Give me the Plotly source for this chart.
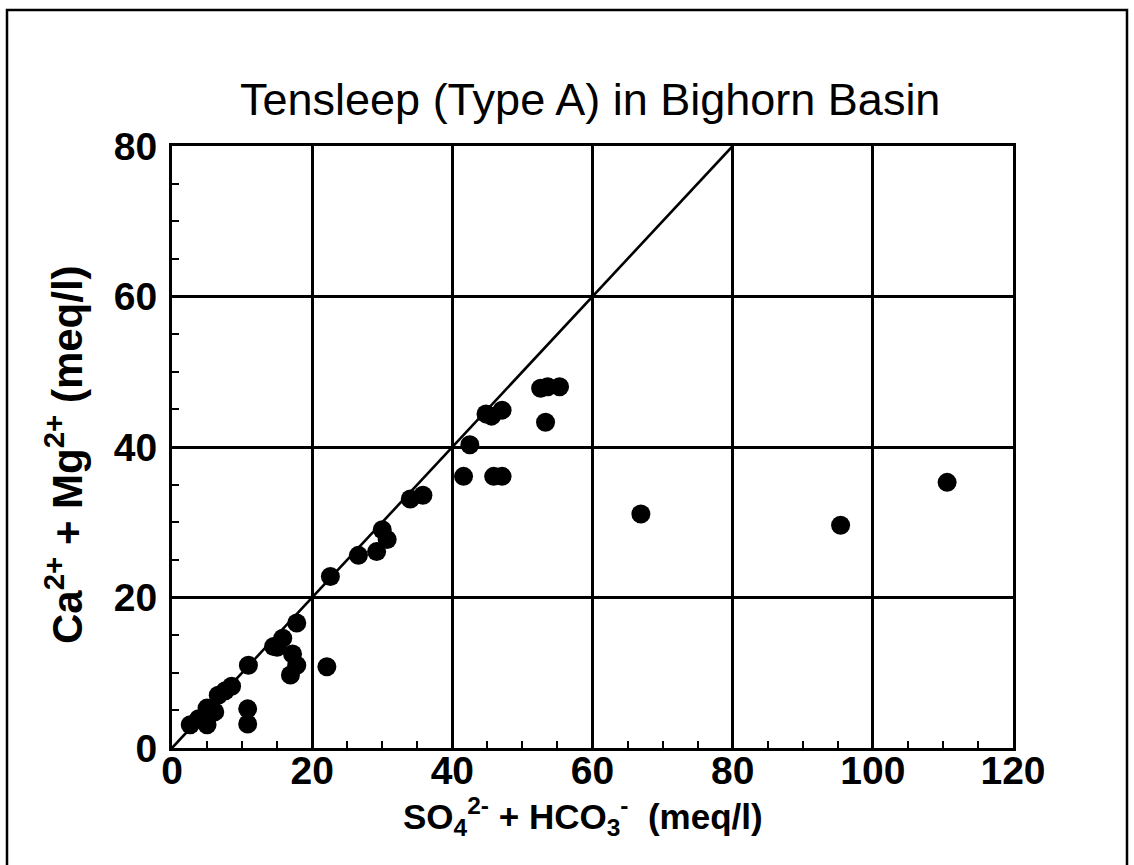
import plotly.graph_objects as go

# Anion sum (x) and cation sum (y), meq/l
so4_hco3 = [2.6, 3.8, 5.0, 5.0, 6.1, 6.6, 7.6, 8.5, 10.8, 10.8, 10.9,
            14.5, 15.0, 15.8, 17.2, 17.8, 16.9, 17.8, 22.1, 22.6, 26.6,
            29.2, 30.0, 30.7, 34.0, 35.8, 41.6, 42.5, 44.8, 45.6, 47.1,
            45.9, 47.1, 52.6, 53.6, 55.3, 53.3, 66.9, 95.4, 110.6]
ca_mg = [3.1, 3.9, 5.3, 3.1, 4.8, 7.0, 7.6, 8.2, 5.2, 3.2, 11.0,
         13.5, 13.4, 14.6, 12.5, 16.6, 9.7, 11.0, 10.8, 22.8, 25.6,
         26.1, 29.0, 27.7, 33.1, 33.6, 36.1, 40.3, 44.4, 44.1, 44.9,
         36.1, 36.1, 47.8, 48.0, 48.0, 43.3, 31.1, 29.6, 35.3]

# 1:1 reference line
one_to_one_x = [0, 80]
one_to_one_y = [0, 80]

x_ticks = [0, 20, 40, 60, 80, 100, 120]
y_ticks = [0, 20, 40, 60, 80]

FONT = "Liberation Sans, Arial, Helvetica, sans-serif"

fig = go.Figure()
fig.add_trace(go.Scatter(
    x=one_to_one_x, y=one_to_one_y, mode="lines",
    line=dict(color="black", width=2.6), hoverinfo="skip", showlegend=False))
fig.add_trace(go.Scatter(
    x=so4_hco3, y=ca_mg, mode="markers",
    marker=dict(color="black", size=19, line=dict(width=0)),
    showlegend=False))

axis_common = dict(
    showline=True, linecolor="black", linewidth=3, mirror=True,
    showgrid=True, gridcolor="black", gridwidth=2.6,
    zeroline=False, ticks="inside", ticklen=0, tickcolor="black",
    tickfont=dict(family=FONT, size=39, color="black", weight="bold"),
    minor=dict(ticks="inside", ticklen=7, tickwidth=2, tickcolor="black",
               dtick=5, showgrid=False),
)

fig.update_xaxes(range=[0, 120], tickvals=x_ticks, ticktext=[str(v) for v in x_ticks],
                 ticklabelstandoff=-14, **axis_common)
fig.update_yaxes(range=[0, 80], tickvals=y_ticks, ticktext=[str(v) for v in y_ticks],
                 ticklabelstandoff=4, **axis_common)

L, R, T, B = 172, 121, 146, 117
W, H = 1134, 865
pw, ph = W - L - R, H - T - B

def px(xp):
    return (xp - L) / pw

def py(yp):
    return (H - B - yp) / ph

fig.update_layout(
    width=W, height=H,
    margin=dict(l=L, r=R, t=T, b=B, pad=0),
    paper_bgcolor="white", plot_bgcolor="white",
    font=dict(family=FONT, color="black"),
    shapes=[dict(type="rect", xref="paper", yref="paper",
                 x0=px(7), x1=px(1127), y0=py(880), y1=py(10),
                 line=dict(color="black", width=2.5), layer="below")],
    annotations=[
        dict(text="Tensleep (Type A) in Bighorn Basin", xref="paper", yref="paper",
             x=px(590), y=py(99), xanchor="center", yanchor="middle",
             showarrow=False, font=dict(family=FONT, size=45, color="black")),
        dict(text="<b>SO<sub>4</sub><sup>2-</sup> + HCO<sub>3</sub><sup>-</sup>  (meq/l)</b>",
             xref="paper", yref="paper", x=px(583), y=py(816),
             xanchor="center", yanchor="middle", showarrow=False,
             font=dict(family=FONT, size=35, color="black")),
        dict(text="<b>Ca<sup>2+</sup> + Mg<sup>2+</sup> (meq/l)</b>",
             xref="paper", yref="paper", x=px(64), y=py(455),
             xanchor="center", yanchor="middle", textangle=-90, showarrow=False,
             font=dict(family=FONT, size=42, color="black")),
    ],
)

fig.write_html("out.html")
